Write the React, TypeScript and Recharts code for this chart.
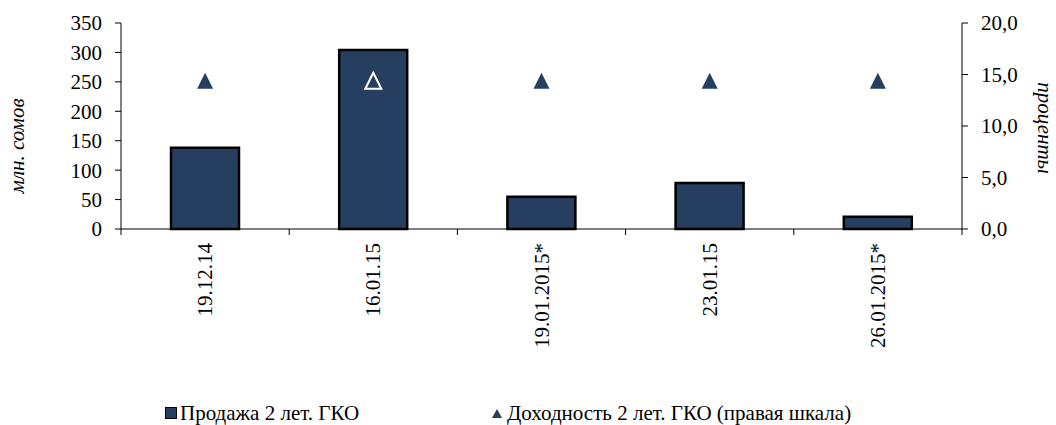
import React from 'react'
import {
  ComposedChart,
  Bar,
  Line,
  XAxis,
  YAxis,
  Legend,
} from 'recharts'

// data
const dates = ['19.12.14', '16.01.15', '19.01.2015*', '23.01.15', '26.01.2015*']
const sales = [138, 304, 55, 78, 21]
const yields = [14.4, 14.4, 14.4, 14.4, 14.4]
const leftTicks = [0, 50, 100, 150, 200, 250, 300, 350]
const rightTicks = [0, 5, 10, 15, 20]

const salesName = 'Продажа 2 лет. ГКО'
const yieldName = 'Доходность 2 лет. ГКО (правая шкала)'

const chartData = dates.map((d, i) => ({
  date: d,
  sales: sales[i],
  yield: yields[i],
}))

const W = 1056
const H = 425
const PLOT_LEFT = 121
const PLOT_RIGHT = 962
const STEP = (PLOT_RIGHT - PLOT_LEFT) / dates.length

const NAVY = '#263f60'
const FONT = "'Liberation Serif', 'DejaVu Serif', serif"

// tick label in the middle of the category, tick mark between categories
const XTick = (props: any) => {
  const { x, y, payload, index } = props
  return (
    <g>
      <line x1={x - STEP / 2} y1={y} x2={x - STEP / 2} y2={y + 6} stroke="#000" />
      {index === dates.length - 1 && (
        <line x1={x + STEP / 2} y1={y} x2={x + STEP / 2} y2={y + 6} stroke="#000" />
      )}
      <text
        transform={`translate(${x},${y + 14}) rotate(-90)`}
        textAnchor="end"
        dominantBaseline="central"
        style={{ fontFamily: FONT, fontSize: 21 }}
        fill="#000"
      >
        {payload.value}
      </text>
    </g>
  )
}

const Triangle = (props: any) => {
  const { cx, cy, index } = props
  if (cx == null || cy == null) return null
  const hollow = index === 1
  const pts = `${cx},${cy - 8} ${cx - 8},${cy + 8} ${cx + 8},${cy + 8}`
  return (
    <polygon
      key={`tri-${index}`}
      points={pts}
      fill={hollow ? 'none' : NAVY}
      stroke={hollow ? '#fff' : 'none'}
      strokeWidth={hollow ? 2 : 0}
    />
  )
}

const LegendContent = () => (
  <div
    style={{
      height: 24,
      position: 'relative',
      fontFamily: FONT,
      fontSize: 21,
      color: '#000',
    }}
  >
    <div style={{ position: 'absolute', left: 165, top: 0, display: 'flex', alignItems: 'center', height: 24 }}>
      <span
        style={{
          display: 'inline-block',
          width: 10,
          height: 10,
          background: NAVY,
          border: '1.5px solid #000',
          marginRight: 3,
        }}
      />
      <span>{salesName}</span>
    </div>
    <div style={{ position: 'absolute', left: 492, top: 0, display: 'flex', alignItems: 'center', height: 24 }}>
      <svg width={10} height={9} style={{ marginRight: 5 }}>
        <polygon points="5,0 0,9 10,9" fill={NAVY} />
      </svg>
      <span>{yieldName}</span>
    </div>
  </div>
)

const tickStyle = { fill: '#000', fontSize: 21, style: { fontFamily: FONT } }

const AxisTitle = ({ x, y, angle, text }: { x: number; y: number; angle: number; text: string }) => (
  <text
    x={x}
    y={y}
    transform={`rotate(${angle}, ${x}, ${y})`}
    textAnchor="middle"
    dominantBaseline="central"
    style={{ fontFamily: FONT, fontStyle: 'italic', fontSize: 21 }}
    fill="#000"
  >
    {text}
  </text>
)

export default function App() {
  return (
    <div style={{ position: 'absolute', left: 0, top: 0, width: W, height: H, background: '#fff', fontFamily: FONT }}>
      <ComposedChart
        width={W}
        height={H}
        data={chartData}
        margin={{ top: 23, right: 0, bottom: 0, left: 0 }}
        style={{ fontFamily: FONT }}
      >
        <XAxis
          dataKey="date"
          interval={0}
          height={172}
          axisLine={{ stroke: '#000' }}
          tickLine={false}
          tickSize={0}
          tickMargin={0}
          tick={<XTick />}
        />
        <YAxis
          yAxisId="left"
          orientation="left"
          width={PLOT_LEFT}
          domain={[0, 350]}
          ticks={leftTicks}
          interval={0}
          axisLine={{ stroke: '#000' }}
          tickLine={{ stroke: '#000' }}
          tickSize={6}
          tickMargin={13}
          tick={tickStyle}
          label={{
            content: (p: any) => (
              <AxisTitle x={17} y={p.viewBox.y + p.viewBox.height / 2 + 20} angle={-90} text="млн. сомов" />
            ),
          }}
        />
        <YAxis
          yAxisId="right"
          orientation="right"
          width={W - PLOT_RIGHT}
          domain={[0, 20]}
          ticks={rightTicks}
          interval={0}
          axisLine={{ stroke: '#000' }}
          tickLine={{ stroke: '#000' }}
          tickSize={6}
          tickMargin={13}
          tick={tickStyle}
          tickFormatter={(v: number) => v.toFixed(1).replace('.', ',')}
          label={{
            content: (p: any) => (
              <AxisTitle x={1045} y={p.viewBox.y + p.viewBox.height / 2 + 2} angle={90} text="проценты" />
            ),
          }}
        />
        <Legend verticalAlign="bottom" content={<LegendContent />} />
        <Bar
          yAxisId="left"
          dataKey="sales"
          name={salesName}
          fill={NAVY}
          stroke="#000"
          strokeWidth={2.5}
          barSize={68}
          isAnimationActive={false}
        />
        <Line
          yAxisId="right"
          dataKey="yield"
          name={yieldName}
          stroke="none"
          strokeWidth={0}
          dot={<Triangle />}
          activeDot={false}
          isAnimationActive={false}
        />
      </ComposedChart>
    </div>
  )
}
